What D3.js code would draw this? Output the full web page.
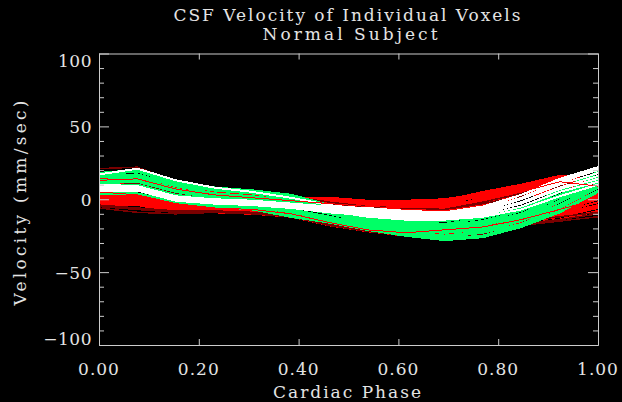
<!DOCTYPE html>
<html><head><meta charset="utf-8">
<script src="https://cdn.jsdelivr.net/npm/d3@7"></script>
<style>
html,body{margin:0;padding:0;background:#000;}
svg{display:block;}
text{font-family:"DejaVu Serif","Liberation Serif",serif;fill:#e4e4e4;}
</style></head>
<body>
<script>
// ---------- data ----------
const titleLines = ["CSF Velocity of Individual Voxels", "Normal Subject"];
const xTitle = "Cardiac Phase";
const yTitle = "Velocity (mm/sec)";
const phase = [0, 0.077, 0.154, 0.231, 0.308, 0.385, 0.462, 0.538, 0.615, 0.692, 0.769, 0.846, 0.923, 1.0];
const xTickValues = [0, 0.2, 0.4, 0.6, 0.8, 1.0];
const xTickLabels = ["0.00", "0.20", "0.40", "0.60", "0.80", "1.00"];
const yTickValues = [-100, -50, 0, 50, 100];
const yTickLabels = ["\u2212100", "\u221250", "0", "50", "100"];
const yMinorValues = [-90, -80, -70, -60, -40, -30, -20, -10, 10, 20, 30, 40, 60, 70, 80, 90];

// red voxels: upper group (above white mid-cycle)
const redUpper = [
  [12, 14, 8, 4, 3, 1, 1, -1, -2, -1, 5, 10, 16, 14],
  [11, 13, 7, 3, 2, 0, 0, -2, -3, -2, 3, 8, 14, 12],
  [10, 12, 6, 3, 1, -1, -1, -3, -4, -3, 2, 6, 12, 11],
  [14, 15, 9, 5, 3, 0, -2, -4, -5, -4, 0, 5, 11, 13],
  [9, 11, 5, 2, 0, -2, -3, -5, -6, -5, -1, 3, 9, 10],
  [13, 16, 10, 5, 2, -1, -4, -6, -7, -7, -3, 2, 8, 12],
  [8, 10, 4, 1, -1, -3, -4, -6, -8, -8, -4, 1, 7, 9],
  [15, 17, 9, 4, 2, 0, -1, -3, -5, -6, 1, 7, 13, 15],
  [12, 13, 7, 4, 2, 1, 0, -2, -1, 0, 4, 9, 15, 13],
  [10, 12, 6, 2, 1, -2, -2, -4, -6, -6, -2, 4, 10, 11]
];
// red voxels: lower group (below green at start and end of cycle)
const redLower = [
  [4, 3, -1, -4, -6, -8, -14, -18, -20, -22, -20, -12, -4, 5],
  [3, 2, -2, -4, -6, -9, -15, -19, -21, -23, -21, -13, -5, 3],
  [2, 1, -3, -5, -7, -9, -15, -19, -22, -24, -22, -14, -6, 2],
  [1, 0, -4, -5, -7, -10, -16, -20, -22, -24, -22, -14, -7, 1],
  [0, -1, -5, -6, -8, -10, -16, -20, -23, -25, -23, -15, -8, 0],
  [-1, -2, -6, -6, -8, -11, -17, -21, -23, -25, -23, -15, -9, -2],
  [-2, -3, -7, -7, -9, -11, -17, -21, -24, -26, -24, -16, -10, -4],
  [-3, -4, -8, -8, -9, -12, -18, -22, -24, -26, -24, -16, -12, -6],
  [3, 2, -2, -5, -7, -9, -13, -17, -19, -20, -17, -10, -4, 4],
  [-4, -4, -9, -9, -10, -12, -18, -22, -25, -27, -25, -17, -14, -8],
  [2, 0, -3, -6, -8, -10, -15, -19, -21, -23, -20, -13, -11, -5]
];
// dark red voxels
const darkRed = [
  [-5, -7, -9, -9, -10, -12, -17, -21, -24, -26, -24, -17, -14, -10],
  [-6, -9, -10, -9, -10, -12, -18, -22, -25, -27, -25, -18, -15, -12],
  [21, 22, 12, 7, 4, 2, -2, -5, -6, -7, -2, 4, 12, 8],
  [-4, -6, -8, -8, -9, -11, -16, -20, -23, -25, -22, -15, -12, -9],
  [9, 11, 4, 1, 0, -2, -3, -5, -6, -7, -3, 2, 9, 10]
];
// green voxels
const green = [
  [18, 20, 12, 8, 6, 3, -4, -11, -14, -15, -12, -6, 6, 19],
  [17, 19, 11, 7, 5, 2, -5, -12, -15, -17, -13, -7, 5, 18],
  [16, 17, 10, 6, 4, 0, -6, -13, -16, -18, -15, -8, 3, 16],
  [15, 16, 9, 4, 2, -1, -7, -14, -17, -19, -16, -10, 2, 15],
  [13, 15, 7, 3, 1, -2, -8, -15, -18, -20, -17, -11, 1, 14],
  [12, 13, 6, 2, 0, -4, -9, -16, -19, -21, -18, -12, -1, 13],
  [11, 12, 5, 1, -1, -5, -10, -16, -20, -22, -20, -13, -2, 11],
  [9, 10, 3, 0, -2, -7, -12, -17, -21, -23, -21, -14, -4, 10],
  [8, 9, 2, -2, -4, -8, -13, -18, -22, -25, -22, -15, -5, 9],
  [7, 7, 1, -3, -5, -9, -14, -19, -23, -26, -23, -17, -6, 8],
  [5, 6, -1, -4, -6, -11, -15, -20, -24, -27, -25, -18, -8, 6],
  [4, 4, -2, -5, -7, -12, -16, -21, -25, -28, -26, -19, -9, 5]
];
// white voxels
const white = [
  [9, 8, 1, -1, -1, -3, -5, -6, -8, -9, -6, 3, 14, 22],
  [8, 8, 1, -1, -2, -4, -6, -8, -9, -10, -7, 1, 12, 20],
  [7, 7, 0, -2, -2, -4, -7, -9, -10, -11, -8, 0, 10, 18],
  [6, 6, 0, -2, -3, -5, -7, -10, -11, -12, -9, -2, 8, 16],
  [6, 6, -1, -3, -3, -5, -8, -10, -12, -13, -10, -3, 7, 14],
  [5, 6, -1, -3, -4, -6, -9, -11, -13, -14, -11, -5, 5, 12],
  [9, 7, 1, -2, -3, -5, -8, -12, -14, -14, -12, -7, 2, 10],
  [17, 21, 13, 8, 5, 1, -4, -7, -9, -9, -5, 3, 13, 22],
  [10, 9, 2, 0, -1, -3, -5, -7, -9, -10, -8, 0, 11, 21]
];
// a few red voxels drawn last (streaks over green)
const redTop = [
  [13, 14, 7, 3, 1, -1, -3, -5, -6, -6, -1, 5, 12, 9],
  [5, 3, -3, -6, -7, -10, -16, -21, -23, -21, -19, -14, -7, 0]
];

// ---------- layout ----------
const W = 622, H = 402;
const L = 99, R = 598, T = 53.5, B = 345;
const svg = d3.select("body").append("svg").attr("width", W).attr("height", H)
  .style("background", "#000");

const x = d3.scaleLinear().domain([0, 1]).range([L, R]);
const y = d3.scaleLinear().domain([-100, 100]).range([B, T]);

const line = d3.line().x((d, i) => x(phase[i])).y(d => y(d));

function drawGroup(data, color, w) {
  svg.append("g").selectAll("path").data(data).join("path")
    .attr("d", line).attr("fill", "none").attr("stroke", color)
    .attr("stroke-width", w).attr("shape-rendering", "crispEdges");
}
drawGroup(redUpper, "#ff0000", 2);
drawGroup(redLower, "#ff0000", 2);
drawGroup(darkRed, "#7a0000", 1.5);
drawGroup(green, "#00ff66", 2.2);
drawGroup(white, "#ffffff", 2);
drawGroup(redTop, "#ff0000", 1);

// ---------- axes ----------
const axisColor = "#cccccc";
function styleAxis(g) {
  g.selectAll("path,line").attr("stroke", axisColor).attr("stroke-width", 1);
  g.selectAll("text").remove();
}
svg.append("g").attr("transform", `translate(${L},0)`)
  .call(d3.axisRight(y).tickValues(yTickValues).tickSize(10).tickSizeOuter(0)).call(styleAxis);
svg.append("g").attr("transform", `translate(${L},0)`)
  .call(d3.axisRight(y).tickValues(yMinorValues).tickSize(5).tickSizeOuter(0)).call(styleAxis);
svg.append("g").attr("transform", `translate(${R},0)`)
  .call(d3.axisLeft(y).tickValues(yTickValues).tickSize(10).tickSizeOuter(0)).call(styleAxis);
svg.append("g").attr("transform", `translate(${R},0)`)
  .call(d3.axisLeft(y).tickValues(yMinorValues).tickSize(5).tickSizeOuter(0)).call(styleAxis);
svg.append("g").attr("transform", `translate(0,${B})`)
  .call(d3.axisTop(x).tickValues(xTickValues).tickSize(6).tickSizeOuter(0)).call(styleAxis);
svg.append("g").attr("transform", `translate(0,${T})`)
  .call(d3.axisBottom(x).tickValues(xTickValues).tickSize(6).tickSizeOuter(0)).call(styleAxis);

// tick labels
svg.append("g").selectAll("text").data(yTickValues).join("text")
  .attr("x", 92)
  .attr("y", d => Math.min(B - 6, Math.max(T + 7, y(d) + 1)) + 6)
  .attr("text-anchor", "end").attr("font-size", 17)
  .attr("letter-spacing", 0.5)
  .text((d, i) => yTickLabels[i]);
svg.append("g").selectAll("text").data(xTickValues).join("text")
  .attr("x", d => x(d)).attr("y", 375)
  .attr("text-anchor", "middle").attr("font-size", 17)
  .attr("letter-spacing", 1)
  .text((d, i) => xTickLabels[i]);

// titles (widths matched to the reference's wide stroke font)
function label(txt, tx, ty, len, rot) {
  const t = svg.append("text").attr("text-anchor", "middle").attr("font-size", 17)
    .attr("textLength", len).attr("lengthAdjust", "spacing").text(txt);
  if (rot) t.attr("transform", `translate(${tx},${ty}) rotate(-90)`);
  else t.attr("x", tx).attr("y", ty);
}
label(titleLines[0], 347, 21, 347);
label(titleLines[1], 350, 40, 175);
label(xTitle, 347, 398, 148);
label(yTitle, 26, 203, 205, true);
</script>
</body></html>
